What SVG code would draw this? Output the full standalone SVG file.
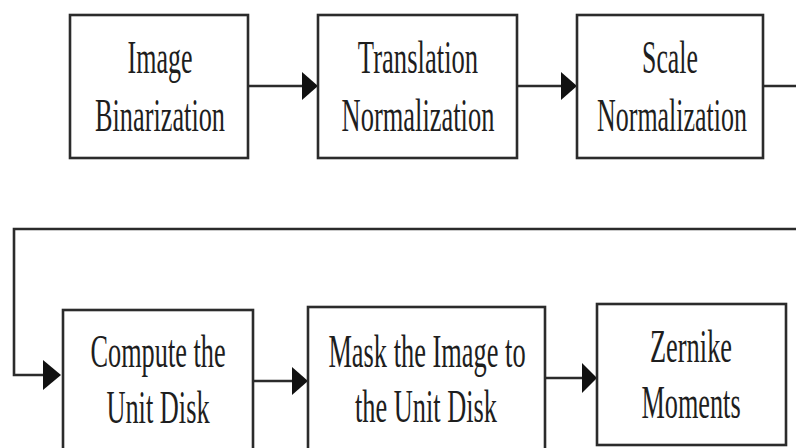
<svg xmlns="http://www.w3.org/2000/svg" width="796" height="448" viewBox="0 0 796 448">
<style>
.box{fill:#fff;stroke:#2b2b2b;stroke-width:2.6}
.ln{fill:none;stroke:#2b2b2b;stroke-width:2.6}
.hd{fill:#111}
text{font-family:"Liberation Serif","Times New Roman",serif;font-size:46px;fill:#1e1e1e;text-anchor:middle}
</style>
<rect width="796" height="448" fill="#fff"/>
<g id="connectors">
<path class="ln" d="M248 86H302"/>
<polygon class="hd" points="302,72 318,86 302,100"/>
<path class="ln" d="M517 86H561"/>
<polygon class="hd" points="561,72 577,86 561,100"/>
<path class="ln" d="M763 86H796"/>
<path class="ln" d="M796 229H14V375H44"/>
<polygon class="hd" points="43,360 61,375 43,390"/>
<path class="ln" d="M253 381H292"/>
<polygon class="hd" points="292,367 308,381 292,395"/>
<path class="ln" d="M545 378H582"/>
<polygon class="hd" points="582,363 597,378 582,393"/>
</g>
<g id="n1"><rect class="box" x="70" y="15" width="178" height="143"/>
<text transform="translate(160 73) scale(0.57 1)" textLength="114" lengthAdjust="spacingAndGlyphs">Image</text>
<text transform="translate(160 131) scale(0.57 1)" textLength="228" lengthAdjust="spacingAndGlyphs">Binarization</text></g>
<g id="n2"><rect class="box" x="318" y="15" width="199" height="143"/>
<text transform="translate(418 73) scale(0.57 1)" textLength="211" lengthAdjust="spacingAndGlyphs">Translation</text>
<text transform="translate(418 131) scale(0.57 1)" textLength="268" lengthAdjust="spacingAndGlyphs">Normalization</text></g>
<g id="n3"><rect class="box" x="577" y="15" width="186" height="143"/>
<text transform="translate(670 73) scale(0.57 1)" textLength="98" lengthAdjust="spacingAndGlyphs">Scale</text>
<text transform="translate(672 131) scale(0.57 1)" textLength="263" lengthAdjust="spacingAndGlyphs">Normalization</text></g>
<g id="n4"><rect class="box" x="63" y="310" width="190" height="150"/>
<text transform="translate(158 367) scale(0.57 1)" textLength="237" lengthAdjust="spacingAndGlyphs">Compute the</text>
<text transform="translate(158 423) scale(0.57 1)" textLength="181" lengthAdjust="spacingAndGlyphs">Unit Disk</text></g>
<g id="n5"><rect class="box" x="308" y="307" width="237" height="153"/>
<text transform="translate(427 367) scale(0.57 1)" textLength="346" lengthAdjust="spacingAndGlyphs">Mask the Image to</text>
<text transform="translate(426 422) scale(0.57 1)" textLength="249" lengthAdjust="spacingAndGlyphs">the Unit Disk</text></g>
<g id="n6"><rect class="box" x="597" y="304" width="189" height="141"/>
<text transform="translate(691 362) scale(0.57 1)" textLength="144" lengthAdjust="spacingAndGlyphs">Zernike</text>
<text transform="translate(691 418) scale(0.57 1)" textLength="174" lengthAdjust="spacingAndGlyphs">Moments</text></g>
</svg>
